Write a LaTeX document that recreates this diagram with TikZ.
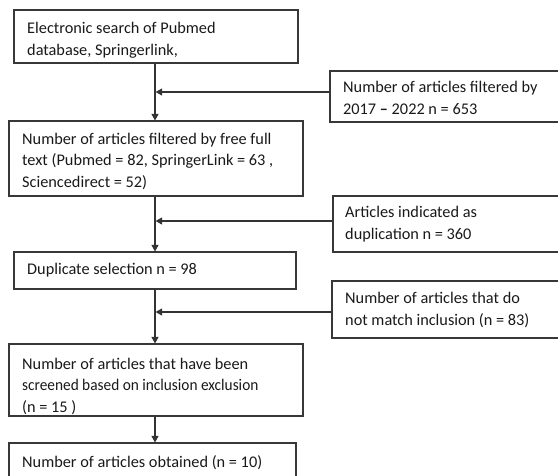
\documentclass[tikz,border=0pt]{standalone}
\usepackage{fontspec}
\setmainfont{Carlito}
\usepackage{graphicx}
\usetikzlibrary{arrows.meta}
\tikzset{
  box/.style={draw=black!78, line width=1.1pt, rectangle, inner sep=0pt},
  txt/.style={anchor=north west, inner sep=0pt, align=left, text=black!90,
    font=\fontsize{16.3}{21.8}\selectfont},
  conn/.style={draw=black!80, line width=1.1pt},
  arr/.style={conn, -{Triangle[length=6.5pt,width=7pt]}}
}
\begin{document}
\begin{tikzpicture}[x=1pt,y=-1pt]
\useasboundingbox (0,0) rectangle (558,475);
\clip (0,0) rectangle (558,475);
% main boxes
\node[box, minimum width=284pt, minimum height=53pt] (b1) at (156,36.5) {};
\node[box, minimum width=294pt, minimum height=75pt] (b2) at (156,158.5) {};
\node[box, minimum width=282pt, minimum height=37pt] (b3) at (155,270.5) {};
\node[box, minimum width=294pt, minimum height=72pt] (b4) at (156,380) {};
\node[box, minimum width=287pt, minimum height=60pt] (b5) at (152.5,473) {};
% side boxes
\node[box, minimum width=240pt, minimum height=51pt] (r1) at (450,96.5) {};
\node[box, minimum width=237pt, minimum height=56pt] (r2) at (451.5,224) {};
\node[box, minimum width=238pt, minimum height=57pt] (r3) at (451,309.5) {};
% texts
\begin{scope}
\clip (b1.south west) rectangle (b1.north east);
\node[txt] (t1) at (27,22) {Electronic search of Pubmed\\database, Springerlink,};
\end{scope}
\node[txt] (t2) at (22,132.5) {Number of articles filtered by free full\\text (Pubmed = 82, SpringerLink = 63 ,\\Sciencedirect = 52)};
\node[txt] (t3) at (27,263) {Duplicate selection n = 98};
\begin{scope}
\clip (b4.south west) rectangle (b4.north east);
\node[txt] (t4) at (22,357.5) {Number of articles that have been\\\scalebox{0.94}[1]{screened based on inclusion exclusion}\\(n = 15 )};
\end{scope}
\node[txt] (t5) at (22,455) {Number of articles obtained (n = 10)};
\node[txt] (s1) at (343,81) {Number of articles filtered by\\2017 \textbf{–} 2022 n = 653};
\node[txt] (s2) at (345,206) {Articles indicated as\\duplication n = 360};
\node[txt] (s3) at (345,292) {Number of articles that do\\not match inclusion (n = 83)};
% junction coordinates
\coordinate (j1) at (155,92);
\coordinate (j2) at (155,221);
\coordinate (j3) at (155,312);
% vertical arrows
\draw[arr] (b1.south -| j1) -- (b2.north -| j1);
\draw[arr] (b2.south -| j1) -- (b3.north -| j1);
\draw[arr] (b3.south -| j1) -- (b4.north -| j1);
\draw[arr] (b4.south -| j1) -- (b5.north -| j1);
% horizontal arrows
\draw[arr] (r1.west |- j1) -- ([xshift=0.6pt]j1);
\draw[arr] (r2.west |- j2) -- ([xshift=0.6pt]j2);
\draw[arr] (r3.west |- j3) -- ([xshift=0.6pt]j3);
\end{tikzpicture}
\end{document}
